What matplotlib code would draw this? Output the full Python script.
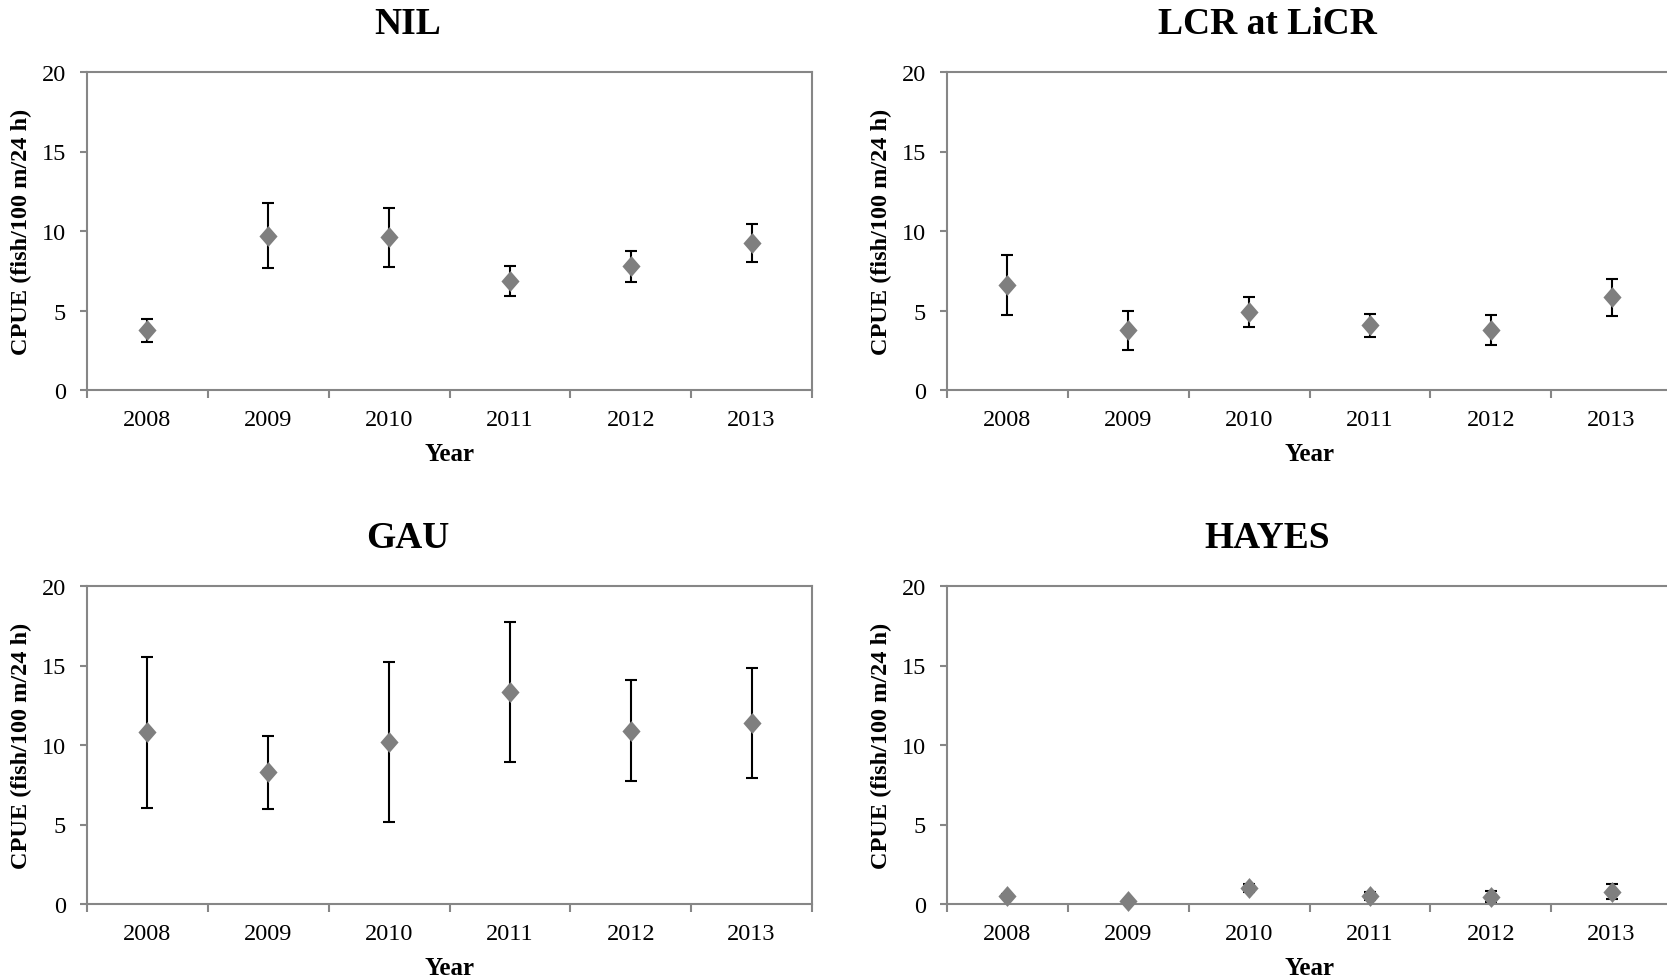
import matplotlib
matplotlib.use("Agg")
import matplotlib.pyplot as plt
import numpy as np

# Mean CPUE (fish/100 m/24 h) by year with error half-widths, per site
years = ["2008", "2009", "2010", "2011", "2012", "2013"]

nil_cpue = [3.75, 9.70, 9.60, 6.87, 7.77, 9.26]
nil_err = [0.70, 2.05, 1.85, 0.96, 0.97, 1.20]

lcr_cpue = [6.60, 3.75, 4.90, 4.07, 3.77, 5.83]
lcr_err = [1.87, 1.22, 0.93, 0.74, 0.97, 1.17]

gau_cpue = [10.80, 8.28, 10.20, 13.35, 10.90, 11.40]
gau_err = [4.75, 2.28, 5.02, 4.40, 3.18, 3.45]

hayes_cpue = [0.52, 0.21, 0.98, 0.52, 0.47, 0.76]
hayes_err = [0.10, 0.05, 0.25, 0.25, 0.35, 0.47]

titles = ["NIL", "LCR at LiCR", "GAU", "HAYES"]
series = [(nil_cpue, nil_err), (lcr_cpue, lcr_err),
          (gau_cpue, gau_err), (hayes_cpue, hayes_err)]

plt.rcParams["font.family"] = ["Liberation Serif", "DejaVu Serif"]

W, H = 1667, 979
fig = plt.figure(figsize=(W / 100, H / 100), dpi=100)
fig.patch.set_facecolor("white")

axis_grey = "#868686"
marker_grey = "#7f7f7f"
diamond = [(0, 1), (0.87, 0), (0, -1), (-0.87, 0), (0, 1)]

# panel boxes in pixels: left, top, width, height
boxes = [(87, 73, 725, 318), (947, 73, 725, 318),
         (87, 587, 725, 318), (947, 587, 725, 318)]

for (l, t, w, h), title, (vals, errs) in zip(boxes, titles, series):
    ax = fig.add_axes([l / W, 1 - (t + h) / H, w / W, h / H])
    x = np.arange(len(years))
    ax.errorbar(x, vals, yerr=errs, fmt="none", ecolor="black",
                elinewidth=1.5, capsize=4, capthick=1.5, zorder=2,
                clip_on=False)
    ax.plot(x, vals, linestyle="none", marker=diamond, markersize=15,
            color=marker_grey, markeredgewidth=0, zorder=3, clip_on=False)

    ax.set_xlim(-0.5, len(years) - 0.5)
    ax.set_ylim(0, 20)
    ax.set_yticks([0, 5, 10, 15, 20])
    ax.set_xticks(np.arange(-0.5, len(years), 1.0))
    ax.set_xticklabels([])
    ax.set_xticks(x, minor=True)
    ax.set_xticklabels(years, minor=True)

    for s in ax.spines.values():
        s.set_color(axis_grey)
        s.set_linewidth(1.5)
    ax.tick_params(axis="x", which="major", direction="out", length=6,
                   width=1.5, color=axis_grey)
    ax.tick_params(axis="x", which="minor", length=0, pad=13.5,
                   labelsize=17.5)
    ax.tick_params(axis="y", direction="out", length=5, width=1.5,
                   color=axis_grey, pad=10, labelsize=17.5)

    ax.set_ylabel("CPUE (fish/100 m/24 h)", fontsize=17.5,
                  fontweight="bold", va="center")
    ax.yaxis.set_label_coords(-0.091, 0.5)
    ax.set_xlabel("Year", fontsize=18, fontweight="bold", va="center")
    ax.xaxis.set_label_coords(0.5, -0.2)

    cx = (l + w / 2 - 42) / W
    cy = 1 - (t - 48) / H
    fig.text(cx, cy, title, ha="center", va="center", fontsize=27,
             fontweight="bold")

fig.savefig("out.png", dpi=100, facecolor="white")
